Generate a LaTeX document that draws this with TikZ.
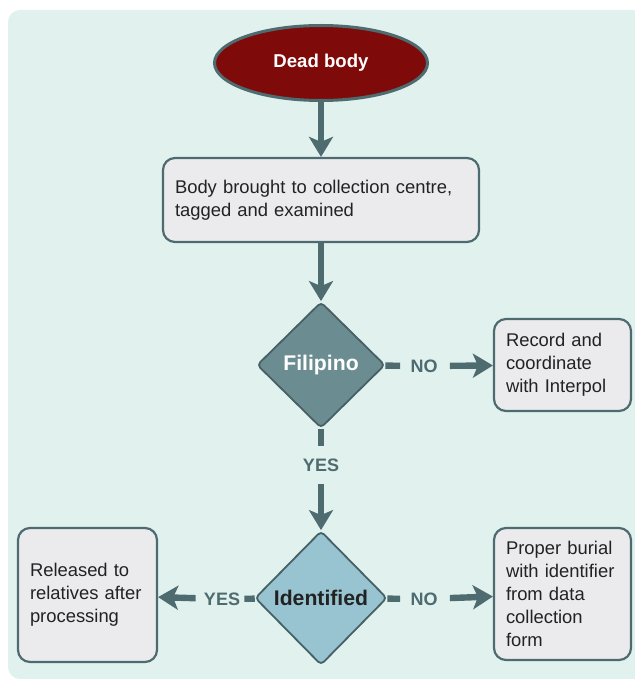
\documentclass[tikz,border=0pt]{standalone}
\usepackage{fontspec}
\setmainfont{Liberation Sans}
\usetikzlibrary{shapes.geometric, arrows.meta, positioning}
\definecolor{bg_mint}{HTML}{E1F1EE}
\definecolor{edge_slate}{HTML}{4E6B70}
\definecolor{body_red}{HTML}{7E0A0A}
\definecolor{box_grey}{HTML}{EBEBEE}
\definecolor{dia_dark}{HTML}{6B8D92}
\definecolor{dia_light}{HTML}{97C4D0}
\definecolor{ink}{HTML}{222222}
\tikzset{
  text_font/.style = {font=\fontsize{9.2}{11.4}\selectfont},
  bold_font/.style = {font=\fontsize{10.6}{12}\selectfont\bfseries},
  label_font/.style = {font=\fontsize{9}{10}\selectfont\bfseries}
}
\tikzset{
  start/.style = {ellipse, draw=edge_slate, line width=1.5pt, fill=body_red,
    text=white, font=\fontsize{9.3}{11}\selectfont\bfseries,
    minimum width=106.5pt, minimum height=37.5pt},
  block/.style = {text_font, text=ink, align=left, draw=edge_slate, line width=1.1pt,
    rounded corners=6pt, fill=box_grey, inner sep=6pt},
  decision/.style = {diamond, bold_font, draw=edge_slate!90!black, line width=0.9pt,
    rounded corners=2pt, inner sep=0pt},
  answer/.style = {label_font, text=edge_slate, inner sep=2pt},
  flow/.style = {draw=edge_slate, line width=3.2pt,
    -{Stealth[width=12pt, length=10pt, inset=2.5pt]}},
  stub/.style = {draw=edge_slate, line width=3.2pt}
}
\begin{document}
\begin{tikzpicture}[x=0.5pt, y=-0.5pt]
  \useasboundingbox (0,0) rectangle (635,679);
  \fill[bg_mint, rounded corners=6pt] (8,10) rectangle (645,679);

  % Start and steps
  \node[start] at (321,63) (dead) {Dead body};
  \node[block, text width=146pt, minimum height=42pt] at (321,200) (tag) {
    Body brought to collection centre,\\
    tagged and examined};

  % Decisions
  \node[decision, fill=dia_dark, text=white, minimum width=64pt, minimum height=63pt]
    at (321,365) (fil) {Filipino};
  \node[decision, fill=dia_light, text=ink, minimum width=66pt, minimum height=67pt]
    at (321,598) (ident) {Identified};

  % Outcomes
  \node[block, text width=56.5pt, minimum height=46pt] at (562.5,365) (interpol) {
    Record and\\
    coordinate\\
    with Interpol};
  \node[block, text width=57.5pt, minimum height=67pt] at (87.5,595) (release) {
    Released to\\
    relatives after\\
    processing};
  \node[block, text width=56.5pt, minimum height=66pt] at (562.5,594) (burial) {
    Proper burial\\
    with identifier\\
    from data\\
    collection\\
    form};

  % Answers
  \node[answer] at (424,366) (fil_no) {NO};
  \node[answer] at (321,465) (fil_yes) {YES};
  \node[answer] at (222,599) (ident_yes) {YES};
  \node[answer] at (424,599) (ident_no) {NO};

  % Arrows and lines
  \draw[flow] (dead) -- (tag);
  \draw[flow] (tag) -- (fil);

  \draw[stub, shorten >=3pt] (fil) -- (fil_no);
  \draw[flow, shorten <=4pt] (fil_no) -- (interpol);

  \draw[stub, shorten >=4pt] (fil) -- (fil_yes);
  \draw[flow, shorten <=4pt] (fil_yes) -- (ident);

  \draw[stub] (ident) -- (ident_yes);
  \draw[flow, shorten <=2pt] (ident_yes) -- (release);

  \draw[stub, shorten >=3pt] (ident) -- (ident_no);
  \draw[flow, shorten <=4pt] (ident_no) -- (burial);
\end{tikzpicture}
\end{document}
